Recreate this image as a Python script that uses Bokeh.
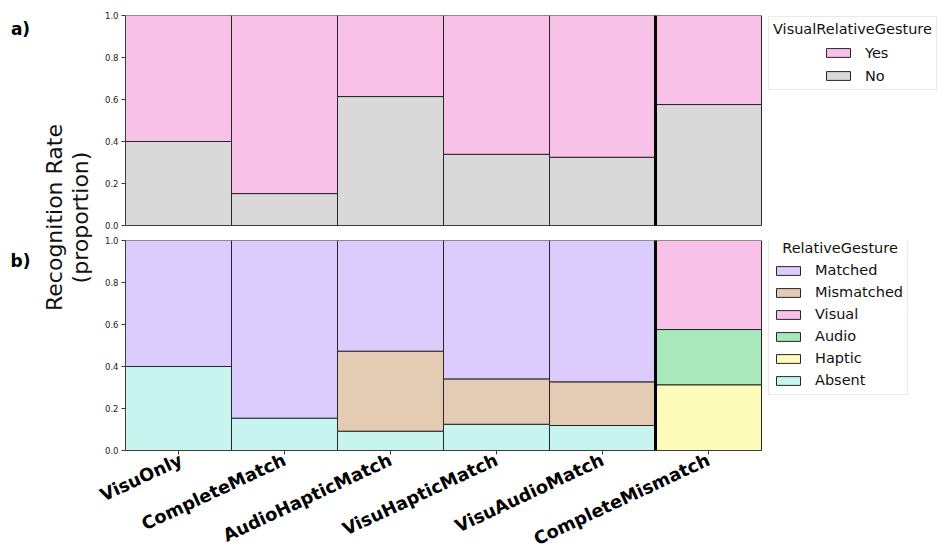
import numpy as np
from math import pi, radians
from bokeh.plotting import figure
from bokeh.models import (ColumnDataSource, Range1d, Legend, LegendItem, LinearAxis,
                          Span, Label, FixedTicker, PrintfTickFormatter)
from bokeh.core.properties import value
from bokeh.layouts import row, column
from bokeh.embed import file_html
from bokeh.resources import INLINE

# ---------------- data ----------------
conditions = ["VisuOnly", "CompleteMatch", "AudioHapticMatch",
              "VisuHapticMatch", "VisuAudioMatch", "CompleteMismatch"]

# panel a) VisualRelativeGesture (stack bottom -> top: No, Yes)
vrg_no = [0.400, 0.152, 0.614, 0.339, 0.325, 0.576]
vrg_yes = [0.600, 0.848, 0.386, 0.661, 0.675, 0.424]

# panel b) RelativeGesture (stack bottom -> top)
rg_absent = [0.400, 0.154, 0.092, 0.125, 0.119, 0.000]
rg_haptic = [0.000, 0.000, 0.000, 0.000, 0.000, 0.313]
rg_audio = [0.000, 0.000, 0.000, 0.000, 0.000, 0.263]
rg_visual = [0.000, 0.000, 0.000, 0.000, 0.000, 0.424]
rg_mismatched = [0.000, 0.000, 0.381, 0.216, 0.208, 0.000]
rg_matched = [0.600, 0.846, 0.527, 0.659, 0.673, 0.000]

legend_a_title = "VisualRelativeGesture"
legend_a_order = ["Yes", "No"]
legend_b_title = "RelativeGesture"
legend_b_order = ["Matched", "Mismatched", "Visual", "Audio", "Haptic", "Absent"]
y_ticks = [0.0, 0.2, 0.4, 0.6, 0.8, 1.0]
separator_before = "CompleteMismatch"

COLORS = {"Yes": "#F8C2E8", "No": "#D9D9D9",
          "Matched": "#DCCBFD", "Mismatched": "#E3CBB4", "Visual": "#F8C2E8",
          "Audio": "#A8E8BA", "Haptic": "#FEFCBB", "Absent": "#C8F4F0"}

FONT = "DejaVu Sans"
EDGE = "#262626"
SPINE = "#3c3c3c"
NBSP = "\u00a0"

N = len(conditions)
BAR_AREA_W = 636          # pixels covered by the bars
FRAME_W = 818             # frame also holds the legends on its right
x_end = N * FRAME_W / BAR_AREA_W
centers = [i + 0.5 for i in range(N)]


def make_panel(show_labels):
    p = figure(x_range=Range1d(0, x_end), y_range=Range1d(0, 1), title=None,
               frame_width=FRAME_W, frame_height=210,
               min_border_left=29, min_border_right=0,
               min_border_top=7 if show_labels else 15,
               min_border_bottom=100 if show_labels else 8,
               x_axis_location=None, toolbar_location=None, output_backend="svg")
    p.grid.visible = False
    p.outline_line_color = None
    p.background_fill_color = "white"
    p.border_fill_color = "white"
    ya = p.yaxis[0]
    ya.ticker = FixedTicker(ticks=y_ticks)
    ya.formatter = PrintfTickFormatter(format="%.1f")
    ya.major_label_text_font = FONT
    ya.major_label_text_font_size = "8.5px"
    ya.major_label_text_color = "#222222"
    ya.major_tick_out = 4
    ya.major_tick_in = 0
    ya.minor_tick_out = 0
    ya.minor_tick_in = 0
    ya.major_label_standoff = 3
    ya.axis_line_color = SPINE
    ya.major_tick_line_color = SPINE

    xa = LinearAxis(ticker=FixedTicker(ticks=centers if show_labels else []), bounds=(0, N))
    xa.axis_line_color = SPINE
    xa.major_tick_line_color = SPINE
    xa.minor_tick_out = 0
    xa.minor_tick_in = 0
    xa.major_tick_in = 0
    if show_labels:
        xa.major_label_overrides = {c: name for c, name in zip(centers, conditions)}
        xa.major_label_orientation = radians(25)
        xa.major_label_text_font = FONT
        xa.major_label_text_font_style = "bold"
        xa.major_label_text_font_size = "17.8px"
        xa.major_label_text_color = "black"
        xa.major_tick_out = 4
        xa.major_label_standoff = 4
    else:
        xa.major_tick_out = 0
        xa.major_label_standoff = 0
    p.add_layout(xa, "below")
    return p


def stacked(p, series):
    cum = np.zeros(N)
    rends = {}
    for name, vals in series:
        vals = np.asarray(vals, dtype=float)
        keep = vals > 0
        src = ColumnDataSource(dict(
            x=[c for c, k in zip(centers, keep) if k],
            bottom=cum[keep], top=(cum + vals)[keep]))
        rends[name] = p.vbar(x="x", bottom="bottom", top="top", width=1.0, source=src,
                             fill_color=COLORS[name], line_color=EDGE, line_width=1)
        cum = cum + vals
    return rends


def style_legend(lg, label_h):
    lg.label_text_font = FONT
    lg.label_text_font_size = "14.5px"
    lg.label_text_color = "#111111"
    lg.glyph_width = 30
    lg.glyph_height = 11
    lg.label_standoff = 12
    lg.label_height = label_h
    lg.padding = 4
    lg.spacing = 2
    lg.margin = 0
    lg.title_text_font = FONT
    lg.title_text_font_style = "normal"
    lg.title_text_font_size = "14.5px"
    lg.title_text_color = "#111111"
    lg.title_standoff = 4
    lg.border_line_color = "#d4d4d4"
    lg.border_line_width = 1
    lg.background_fill_color = "white"
    lg.background_fill_alpha = 1


sep_x = conditions.index(separator_before)

# ---------------- panel a ----------------
p1 = make_panel(False)
ra = stacked(p1, [("No", vrg_no), ("Yes", vrg_yes)])
p1.add_layout(Span(location=sep_x, dimension="height", line_color="black", line_width=3))

# box + title (rows kept empty), then the centred entries drawn on top of it
blank_src = ColumnDataSource(dict(x=[], top=[]))
r_blank = p1.vbar(x="x", top="top", width=1.0, source=blank_src, fill_alpha=0, line_alpha=0)
leg_a_box = Legend(items=[LegendItem(label=value(NBSP), renderers=[r_blank]),
                          LegendItem(label=value(NBSP + NBSP), renderers=[r_blank])],
                   location=(643, 135), title=legend_a_title)
style_legend(leg_a_box, 21)
p1.add_layout(leg_a_box)
leg_a_items = Legend(items=[LegendItem(label=value(n), renderers=[ra[n]]) for n in legend_a_order],
                     location=(694, 135))
style_legend(leg_a_items, 21)
leg_a_items.border_line_alpha = 0
leg_a_items.background_fill_alpha = 0
p1.add_layout(leg_a_items)

# ---------------- panel b ----------------
p2 = make_panel(True)
rb = stacked(p2, [("Absent", rg_absent), ("Haptic", rg_haptic), ("Audio", rg_audio),
                  ("Visual", rg_visual), ("Mismatched", rg_mismatched), ("Matched", rg_matched)])
p2.add_layout(Span(location=sep_x, dimension="height", line_color="black", line_width=3))
leg_b = Legend(items=[LegendItem(label=value(n), renderers=[rb[n]]) for n in legend_b_order],
               location=(643, 55), title=NBSP + NBSP + legend_b_title)
style_legend(leg_b, 20)
p2.add_layout(leg_b)

# ---------------- left strip with shared labels ----------------
SIDE_H = 556
side = figure(width=96, height=SIDE_H, x_range=Range1d(0, 1), y_range=Range1d(0, 1),
              title=None, x_axis_location=None, y_axis_location=None,
              toolbar_location=None, min_border=0, output_backend="svg")
side.grid.visible = False
side.outline_line_color = None
side.add_layout(Label(x=20, y=SIDE_H - 28, x_units="screen", y_units="screen", text="a)",
                      text_font=FONT, text_font_style="bold", text_font_size="17px",
                      text_align="center", text_baseline="middle", text_color="black"))
side.add_layout(Label(x=20, y=SIDE_H - 260, x_units="screen", y_units="screen", text="b)",
                      text_font=FONT, text_font_style="bold", text_font_size="17px",
                      text_align="center", text_baseline="middle", text_color="black"))
side.add_layout(Label(x=54, y=SIDE_H - 217, x_units="screen", y_units="screen",
                      text="Recognition Rate", angle=pi / 2, text_font=FONT,
                      text_font_size="22px", text_align="center", text_baseline="middle",
                      text_color="#111111"))
side.add_layout(Label(x=80, y=SIDE_H - 217, x_units="screen", y_units="screen",
                      text="(proportion)", angle=pi / 2, text_font=FONT,
                      text_font_size="22px", text_align="center", text_baseline="middle",
                      text_color="#111111"))

layout = row(side, column(p1, p2))
open("out.html", "w").write(file_html(layout, INLINE))
